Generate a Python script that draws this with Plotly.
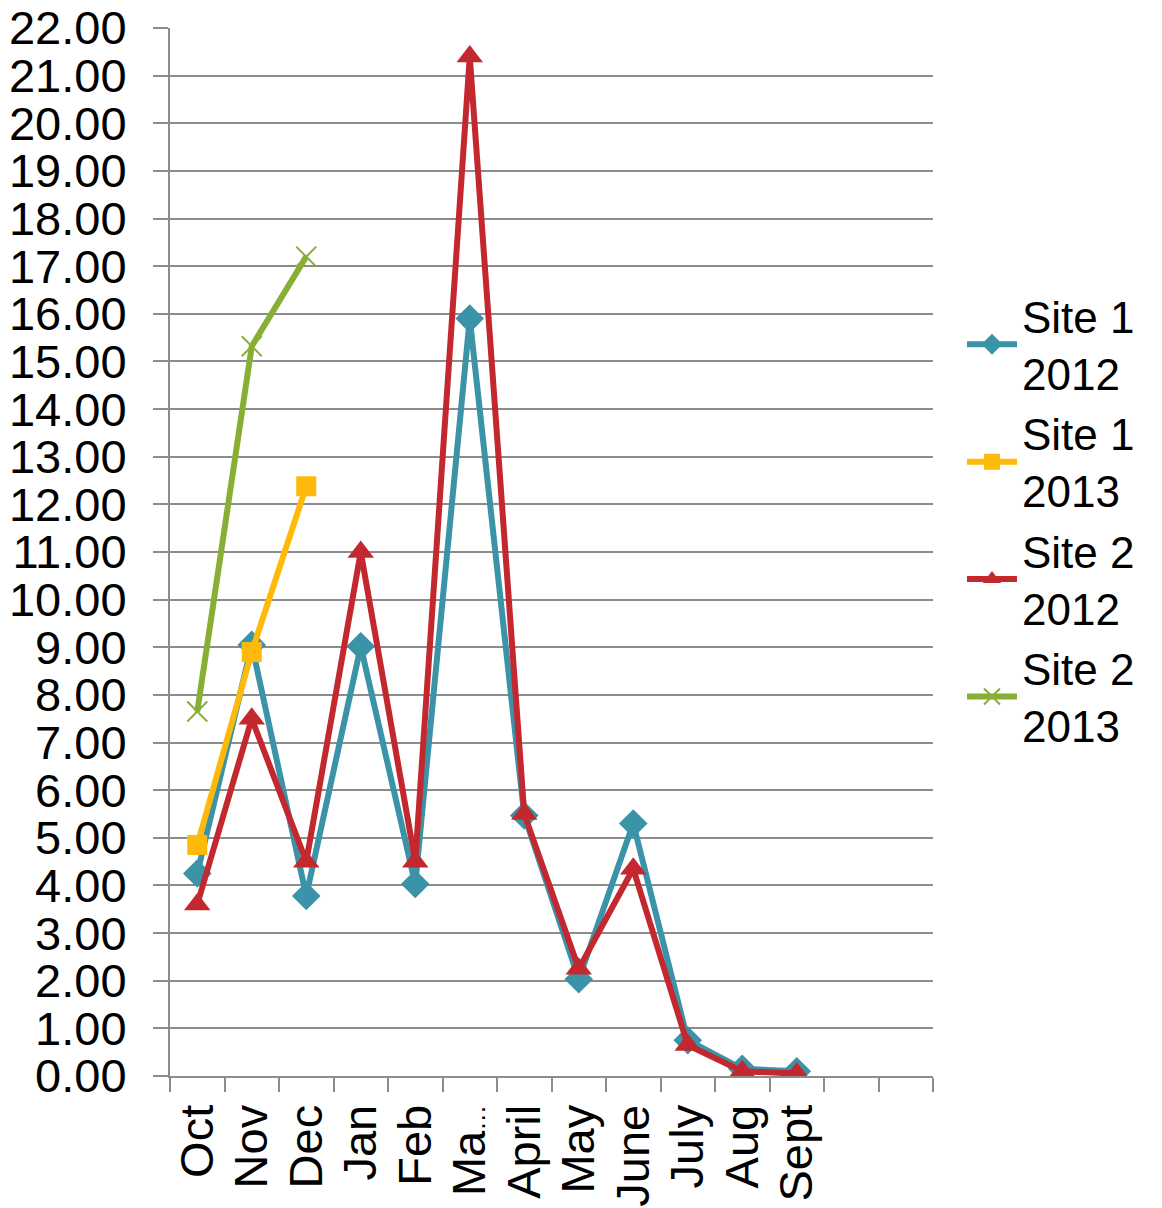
import plotly.graph_objects as go

categories = ["Oct", "Nov", "Dec", "Jan", "Feb", "Ma…", "April", "May", "June", "July", "Aug", "Sept", " ", "  "]
tick_labels = ["Oct", "Nov", "Dec", "Jan", "Feb",
               "Ma<span style='font-size:26px'>…</span>",
               "April", "May", "June", "July", "Aug", "Sept", " ", "  "]

site1_2012 = [4.25, 9.05, 3.78, 9.02, 4.03, 15.9, 5.47, 2.03, 5.3, 0.75, 0.15, 0.1]
site1_2013 = [4.85, 8.9, 12.38]
site2_2012 = [3.6, 7.5, 4.5, 11.0, 4.5, 21.4, 5.5, 2.25, 4.35, 0.65, 0.1, 0.05]
site2_2013 = [7.65, 15.32, 17.2]

yticks = list(range(0, 23))

FONT = "Liberation Sans, Arial, sans-serif"
GRID = "#8c8c8c"

fig = go.Figure()

fig.add_trace(go.Scatter(
    x=categories[:len(site1_2012)], y=site1_2012, mode="lines+markers",
    name="Site 1<br>2012",
    line=dict(color="#3B93A8", width=6),
    marker=dict(symbol="diamond", size=22, color="#3B93A8"),
))
fig.add_trace(go.Scatter(
    x=categories[:len(site1_2013)], y=site1_2013, mode="lines+markers",
    name="Site 1<br>2013",
    line=dict(color="#FFB90A", width=6),
    marker=dict(symbol="square", size=20, color="#FFB90A"),
))
fig.add_trace(go.Scatter(
    x=categories[:len(site2_2012)], y=site2_2012, mode="lines+markers",
    name="Site 2<br>2012",
    line=dict(color="#C4282F", width=6),
    marker=dict(symbol="triangle-up", size=23, color="#C4282F"),
))
fig.add_trace(go.Scatter(
    x=categories[:len(site2_2013)], y=site2_2013, mode="lines+markers",
    name="Site 2<br>2013",
    line=dict(color="#88AE34", width=6),
    marker=dict(symbol="x-thin", size=20, color="#88AE34",
                line=dict(color="#88AE34", width=2)),
))
# keep the two empty trailing categories on the axis
fig.add_trace(go.Scatter(
    x=categories, y=[None] * len(categories), mode="lines",
    showlegend=False, hoverinfo="skip",
))

fig.update_layout(
    width=1162, height=1208,
    margin=dict(l=162, r=237, t=20, b=140, autoexpand=False),
    paper_bgcolor="white", plot_bgcolor="white",
    font=dict(family=FONT, size=47, color="black"),
    legend=dict(
        x=1.038, y=0.53, xanchor="left", yanchor="middle",
        font=dict(family=FONT, size=44, color="black"),
        tracegroupgap=0, itemwidth=50,
        bgcolor="rgba(0,0,0,0)",
    ),
    showlegend=True,
)

fig.update_xaxes(
    type="category", categoryorder="array", categoryarray=categories,
    range=[-0.5, len(categories) - 0.5],
    tickmode="array", tickvals=categories, ticktext=tick_labels,
    showgrid=False, showline=True, linecolor=GRID, linewidth=2,
    ticks="outside", ticklen=14, tickwidth=2, tickcolor=GRID,
    tickson="boundaries", tickangle=-90, ticklabelstandoff=8,
    tickfont=dict(family=FONT, size=47, color="black"),
    zeroline=False, automargin=False, ticklabeloverflow="allow",
)
fig.update_yaxes(
    range=[0, 22], tickvals=yticks, tickformat=".2f",
    showgrid=True, gridcolor=GRID, gridwidth=2,
    showline=True, linecolor=GRID, linewidth=2,
    ticks="outside", ticklen=15, tickwidth=2, tickcolor=GRID,
    ticklabelstandoff=17, ticklabeloverflow="allow",
    tickfont=dict(family=FONT, size=47, color="black"),
    zeroline=False, automargin=False,
)

fig.write_html("out.html")
